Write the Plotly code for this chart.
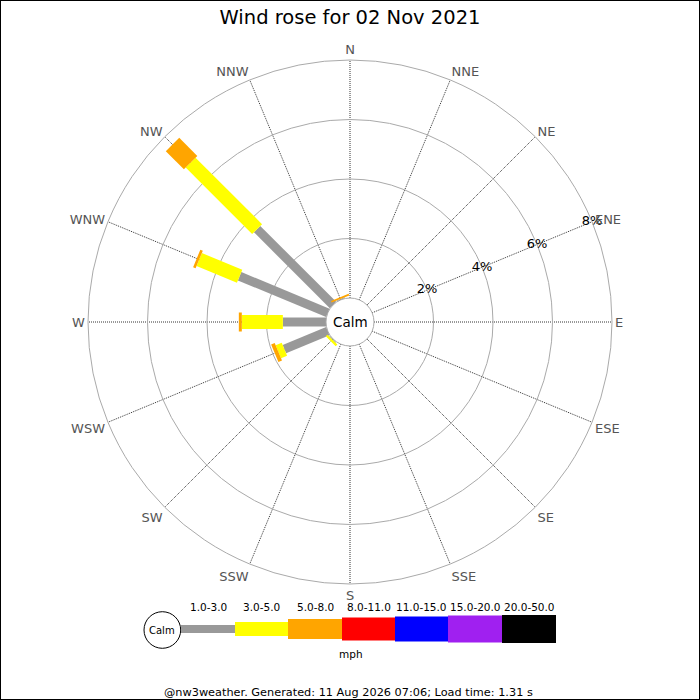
import plotly.graph_objects as go

# wind rose data, % of the day per direction and speed band
directions = ["N", "NNE", "NE", "ENE", "E", "ESE", "SE", "SSE",
              "S", "SSW", "SW", "WSW", "W", "WNW", "NW", "NNW"]
bearings = [0, 22.5, 45, 67.5, 90, 112.5, 135, 157.5,
            180, 202.5, 225, 247.5, 270, 292.5, 315, 337.5]

speed_bands = ["1.0-3.0", "3.0-5.0", "5.0-8.0", "8.0-11.0",
               "11.0-15.0", "15.0-20.0", "20.0-50.0"]
band_colors = ["#999999", "#ffff00", "#ffa500", "#ff0000",
               "#0000ff", "#a020f0", "#000000"]

freq_1_3 = [0, 0, 0, 0, 0, 0, 0, 0, 0, 0, 0.03, 1.58, 1.45, 3.21, 3.61, 0.03]
freq_3_5 = [0, 0, 0, 0, 0, 0, 0, 0, 0, 0, 0.08, 0.22, 1.38, 1.47, 3.16, 0.0]
freq_5_8 = [0, 0, 0, 0, 0, 0, 0, 0, 0, 0, 0, 0.13, 0.10, 0.09, 0.86, 0.06]
freq_8_11 = [0, 0, 0, 0, 0, 0, 0, 0, 0, 0, 0, 0, 0, 0, 0, 0]
freq_11_15 = [0, 0, 0, 0, 0, 0, 0, 0, 0, 0, 0, 0, 0, 0, 0, 0]
freq_15_20 = [0, 0, 0, 0, 0, 0, 0, 0, 0, 0, 0, 0, 0, 0, 0, 0]
freq_20_50 = [0, 0, 0, 0, 0, 0, 0, 0, 0, 0, 0, 0, 0, 0, 0, 0]

radial_ticks = [2, 4, 6, 8]
radial_labels = ["2%", "4%", "6%", "8%"]

title = "Wind rose for 02 Nov 2021"
footer = "@nw3weather. Generated: 11 Aug 2026 07:06; Load time: 1.31 s"

all_bands = [freq_1_3, freq_3_5, freq_5_8, freq_8_11, freq_11_15, freq_15_20, freq_20_50]
bar_widths = [9, 14, 19, 22, 24, 26, 28]

W = 700
FONT = "DejaVu Sans"

fig = go.Figure()

# stacked segments, drawn as thick lines so they keep a constant width
base = [0.0] * len(directions)
for band, color, lw in zip(all_bands, band_colors, bar_widths):
    rr, tt = [], []
    for i, v in enumerate(band):
        if v > 0:
            rr += [base[i], base[i] + v, None]
            tt += [bearings[i], bearings[i], None]
            base[i] += v
    if rr:
        fig.add_trace(go.Scatterpolar(
            r=rr, theta=tt, mode="lines",
            line=dict(color=color, width=lw),
            hoverinfo="skip", showlegend=False, cliponaxis=False))

# percent labels along the ENE spoke
fig.add_trace(go.Scatterpolar(
    r=radial_ticks, theta=[67.5] * len(radial_ticks), mode="text",
    text=radial_labels, textfont=dict(family=FONT, size=13, color="black"),
    hoverinfo="skip", showlegend=False, cliponaxis=False))

cx, cy, R = 350, 322, 262
fig.update_layout(
    width=W, height=W,
    margin=dict(l=0, r=0, t=0, b=0),
    paper_bgcolor="white",
    font=dict(family=FONT),
    title=dict(text=title, x=0.5, xanchor="center", y=1 - 17 / W, yanchor="middle",
               font=dict(family=FONT, size=19.5, color="black")),
    polar=dict(
        domain=dict(x=[(cx - R) / W, (cx + R) / W], y=[1 - (cy + R) / W, 1 - (cy - R) / W]),
        hole=24 / R,
        bgcolor="white",
        radialaxis=dict(range=[0, 8], tickvals=[0] + radial_ticks, showticklabels=False,
                        ticks="", showline=False, gridcolor="#aaaaaa", gridwidth=1),
        angularaxis=dict(rotation=90, direction="clockwise",
                         tickmode="array", tickvals=bearings, ticktext=directions,
                         ticks="", showline=True, linecolor="#aaaaaa", linewidth=1,
                         gridcolor="#333333", griddash="1px,1px", gridwidth=1,
                         tickfont=dict(family=FONT, size=13, color="#555555")),
    ),
)

# centre label
fig.add_annotation(x=cx / W, y=1 - cy / W, xref="paper", yref="paper", text="Calm",
                   xanchor="center", yanchor="middle",
                   showarrow=False, font=dict(family=FONT, size=13.5, color="black"))

# legend strip at the bottom
shapes = [dict(type="rect", xref="paper", yref="paper", x0=0, x1=1, y0=0, y1=1,
               line=dict(color="black", width=2))]
shapes.append(dict(type="circle", xref="paper", yref="paper",
                   x0=144 / W, x1=180.7 / W, y0=1 - 648.3 / W, y1=1 - 611.7 / W,
                   line=dict(color="black", width=1), fillcolor="white"))
fig.add_annotation(x=162.3 / W, y=1 - 630 / W, xref="paper", yref="paper", text="Calm",
                   xanchor="center", yanchor="middle",
                   showarrow=False, font=dict(family=FONT, size=10, color="black"))
leg_x = [181, 235, 288, 342, 395, 448, 502, 556]
leg_h = [8, 14, 20, 23, 25, 27, 28]
leg_cy = 629
for i, (lab, color) in enumerate(zip(speed_bands, band_colors)):
    x0, x1 = leg_x[i], leg_x[i + 1]
    h = leg_h[i]
    shapes.append(dict(type="rect", xref="paper", yref="paper",
                       x0=x0 / W, x1=x1 / W,
                       y0=1 - (leg_cy + h / 2) / W, y1=1 - (leg_cy - h / 2) / W,
                       line=dict(width=0), fillcolor=color))
    fig.add_annotation(x=(x0 + x1) / 2 / W, y=1 - 607 / W, xref="paper", yref="paper",
                       text=lab, showarrow=False, xanchor="center", yanchor="middle",
                       font=dict(family=FONT, size=10.5, color="black"))
fig.update_layout(shapes=shapes)

fig.add_annotation(x=351 / W, y=1 - 654 / W, xref="paper", yref="paper", text="mph",
                   xanchor="center", yanchor="middle",
                   showarrow=False, font=dict(family=FONT, size=10.5, color="black"))
fig.add_annotation(x=348 / W, y=1 - 692 / W, xref="paper", yref="paper", text=footer,
                   xanchor="center", yanchor="middle",
                   showarrow=False, font=dict(family=FONT, size=11.3, color="black"))

fig.write_html("out.html", config={"displayModeBar": False},
               post_script="document.body.style.margin='0';")
